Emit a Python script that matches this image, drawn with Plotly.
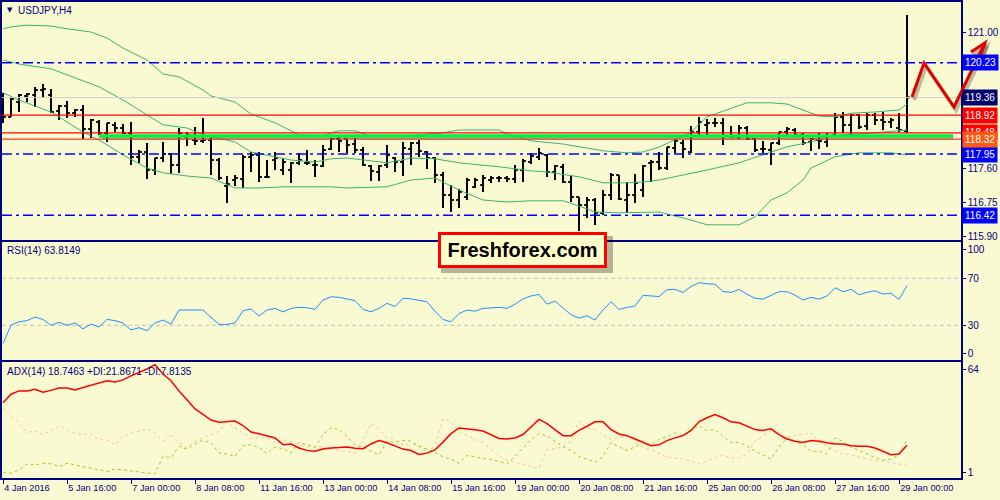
import plotly.graph_objects as go

# ---------------- data ----------------
BARS = list(range(114))
TICK_BARS = [0, 8, 16, 24, 32, 40, 48, 56, 64, 72, 80, 88, 96, 104, 112]
TICK_TEXT = ["4 Jan 2016", "5 Jan 16:00", "7 Jan 00:00", "8 Jan 08:00", "11 Jan 16:00",
             "13 Jan 00:00", "14 Jan 08:00", "15 Jan 16:00", "19 Jan 00:00", "20 Jan 08:00",
             "21 Jan 16:00", "25 Jan 00:00", "26 Jan 08:00", "27 Jan 16:00", "29 Jan 00:00"]

OPEN = [119.30, 118.875, 119.25, 119.40, 119.425, 119.55, 119.425, 119.025, 119.15, 118.975,
        119.05, 118.575, 118.75, 118.475, 118.675, 118.60, 118.475, 117.875, 118.0, 117.55,
        117.85, 117.95, 117.675, 118.375, 118.30, 118.275, 118.30, 117.80, 117.15, 117.30,
        117.325, 117.875, 117.925, 117.375, 117.80, 117.55, 117.55, 117.725, 117.725, 117.675,
        117.65, 118.075, 118.325, 118.325, 118.20, 118.05, 117.65, 117.50, 117.675, 117.85,
        117.75, 118.075, 118.225, 118.0, 117.85, 117.425, 116.925, 116.80, 116.875, 117.125,
        117.175, 117.30, 117.35, 117.35, 117.325, 117.55, 117.75, 117.875, 117.925, 117.50,
        117.625, 117.25, 116.875, 116.675, 116.80, 116.475, 116.925, 117.425, 116.80, 116.925,
        117.05, 117.725, 117.75, 117.60, 118.10, 118.225, 118.0, 118.50, 118.675, 118.725,
        118.725, 118.40, 118.375, 118.60, 118.325, 118.075, 118.05, 118.225, 118.50, 118.55,
        118.425, 118.25, 118.30, 118.25, 118.425, 118.875, 118.675, 118.925, 118.65, 118.925,
        118.80, 118.75, 118.60, 118.525]
HIGH = [119.475, 119.35, 119.45, 119.475, 119.625, 119.70, 119.575, 119.175, 119.275, 119.075,
        119.175, 118.825, 118.80, 118.725, 118.75, 118.70, 118.75, 118.05, 118.225, 117.85,
        118.25, 117.975, 118.60, 118.50, 118.625, 118.85, 118.375, 117.85, 117.40, 117.425,
        117.925, 118.0, 118.0, 117.80, 118.0, 117.85, 117.75, 117.975, 118.05, 117.80,
        118.175, 118.35, 118.375, 118.325, 118.35, 118.125, 117.675, 117.675, 118.175, 117.875,
        118.25, 118.25, 118.30, 118.025, 117.875, 117.50, 117.175, 117.075, 117.35, 117.35,
        117.425, 117.40, 117.40, 117.40, 117.675, 117.825, 117.975, 118.10, 117.95, 117.675,
        117.70, 117.40, 116.875, 116.875, 116.85, 117.05, 117.475, 117.425, 117.25, 117.45,
        117.675, 117.80, 118.0, 118.125, 118.325, 118.30, 118.65, 118.875, 118.825, 118.85,
        118.85, 118.65, 118.675, 118.65, 118.35, 118.275, 118.225, 118.50, 118.625, 118.60,
        118.475, 118.35, 118.475, 118.475, 118.975, 119.0, 118.95, 118.95, 118.975, 118.975,
        119.0, 118.85, 118.975, 121.425]
LOW = [118.725, 118.875, 119.0, 119.25, 119.125, 119.35, 118.975, 118.80, 118.85, 118.875,
       118.325, 118.35, 118.425, 118.25, 118.50, 118.45, 117.675, 117.725, 117.325, 117.425,
       117.75, 117.45, 117.475, 118.15, 118.175, 118.225, 117.425, 117.30, 116.725, 117.15,
       117.10, 117.50, 117.25, 117.35, 117.55, 117.425, 117.225, 117.675, 117.675, 117.375,
       117.625, 118.05, 118.0, 117.975, 117.975, 117.65, 117.275, 117.275, 117.60, 117.50,
       117.40, 117.675, 117.875, 117.575, 117.225, 116.60, 116.50, 116.60, 116.80, 117.10,
       117.0, 117.225, 117.25, 117.25, 117.225, 117.25, 117.70, 117.80, 117.375, 117.30,
       117.225, 116.75, 116.025, 116.35, 116.175, 116.425, 116.80, 116.80, 116.475, 116.725,
       116.875, 117.25, 117.55, 117.55, 117.975, 117.85, 117.975, 118.40, 118.425, 118.625,
       118.175, 118.35, 118.325, 118.30, 118.0, 117.975, 117.675, 118.175, 118.40, 118.375,
       118.175, 118.025, 118.075, 118.125, 118.425, 118.475, 118.425, 118.575, 118.55, 118.675,
       118.55, 118.60, 118.50, 118.475]
CLOSE = [118.875, 119.325, 119.425, 119.45, 119.55, 119.575, 119.0, 119.15, 118.975, 119.05,
         118.575, 118.80, 118.475, 118.725, 118.60, 118.475, 117.875, 118.0, 117.55, 117.85,
         117.95, 117.675, 118.475, 118.425, 118.275, 118.30, 117.80, 117.35, 117.20, 117.35,
         117.875, 117.925, 117.375, 117.375, 117.85, 117.75, 117.725, 117.80, 117.725, 117.675,
         118.05, 118.325, 118.275, 118.175, 118.05, 117.675, 117.525, 117.65, 117.925, 117.75,
         118.10, 118.225, 118.025, 117.85, 117.425, 116.925, 116.80, 117.0, 117.30, 117.30,
         117.35, 117.35, 117.35, 117.325, 117.55, 117.775, 117.90, 117.975, 117.50, 117.65,
         117.25, 116.875, 116.675, 116.80, 116.475, 116.925, 117.425, 116.825, 116.925, 117.225,
         117.65, 117.75, 117.60, 118.125, 118.275, 118.075, 118.50, 118.75, 118.725, 118.725,
         118.40, 118.375, 118.60, 118.325, 118.05, 118.075, 118.225, 118.50, 118.575, 118.425,
         118.225, 118.325, 118.275, 118.40, 118.875, 118.675, 118.925, 118.625, 118.925, 118.80,
         118.75, 118.80, 118.55, 119.36]

BB_UP_BAR = [0, 1, 3, 6, 8, 11, 13, 15, 18, 20, 22, 25, 26, 29, 31, 34, 37, 40, 41, 42, 44, 46,
             50, 55, 57, 62, 63, 66, 70, 75, 78, 80, 82, 86, 88, 91, 93, 96, 98, 100, 102, 104,
             106, 109, 112, 113]
BB_UP = [121.08, 121.13, 121.17, 121.15, 121.08, 121.0, 120.85, 120.6, 120.3, 119.95, 119.88,
         119.55, 119.4, 119.25, 118.95, 118.73, 118.43, 118.4, 118.48, 118.53, 118.53, 118.4,
         118.4, 118.48, 118.55, 118.55, 118.45, 118.28, 118.2, 118.03, 117.98, 118.0, 118.12,
         118.5, 118.88, 119.1, 119.23, 119.23, 119.2, 119.05, 118.9, 118.88, 118.97, 119.0,
         119.05, 119.2]
BB_MID_BAR = [0, 2, 6, 8, 12, 15, 18, 20, 23, 25, 29, 31, 34, 36, 39, 41, 43, 48, 51, 54, 57,
              62, 66, 68, 72, 75, 78, 80, 82, 84, 88, 92, 95, 98, 101, 103, 105, 109, 113]
BB_MID = [120.3, 120.2, 120.08, 119.93, 119.63, 119.3, 118.93, 118.68, 118.6, 118.43, 118.25,
          118.0, 117.88, 117.8, 117.75, 117.83, 117.85, 117.73, 117.85, 117.83, 117.73, 117.63,
          117.53, 117.5, 117.38, 117.23, 117.23, 117.25, 117.3, 117.38, 117.55, 117.73, 117.93,
          118.13, 118.25, 118.38, 118.43, 118.48, 118.55]
BB_LOW_BAR = [0, 2, 6, 10, 12, 15, 18, 20, 23, 26, 29, 32, 35, 41, 43, 48, 51, 54, 57, 60, 63,
              66, 70, 72, 74, 77, 82, 86, 88, 92, 94, 96, 98, 100, 101, 104, 107, 111, 113]
BB_LOW = [119.48, 119.3, 119.0, 118.5, 118.3, 117.93, 117.6, 117.48, 117.4, 117.35, 117.1,
          117.1, 117.13, 117.13, 117.1, 117.13, 117.3, 117.35, 117.05, 116.8, 116.75, 116.78,
          116.78, 116.65, 116.5, 116.48, 116.5, 116.3, 116.18, 116.18, 116.38, 116.8, 116.98,
          117.3, 117.6, 117.88, 117.98, 117.98, 117.93]

RSI = [14.6, 30, 33, 34, 37, 35, 30, 32.5, 30, 32, 27, 31, 28.5, 35, 34, 32, 26, 28, 25.4, 32,
       34.5, 31, 43, 43, 43, 43, 36.7, 30.8, 30.8, 32, 42.4, 44, 37.9, 43, 44.4, 41.5, 44.4,
       45.3, 45, 43.6, 51.5, 54.3, 53.8, 52.5, 51, 43.6, 41.5, 44.4, 48.7, 46, 53, 52.5, 51.5,
       50, 42, 35, 33, 40, 43, 42, 44.4, 45, 45.3, 44.4, 48, 52.5, 55, 56.3, 48, 50.6, 44.5,
       39, 36.2, 38.1, 34.5, 43, 50, 43.5, 45.3, 46.4, 55.5, 55.3, 54.5, 60.3, 60.6, 58, 63,
       66.3, 65.3, 65, 58.8, 58, 60.5, 56.5, 53, 52.3, 55.5, 58.6, 58.6, 55.7, 51.5, 53.8,
       52.3, 55, 62, 58.6, 60.6, 56, 58, 59.4, 56.6, 57.2, 52, 63.81]

ADX = [41.9, 46.5, 48.3, 48.3, 49.2, 47.6, 48.6, 49.9, 49.9, 48.8, 50.1, 51.4, 52.3, 53.8,
       53.2, 54.3, 56.5, 58.4, 60.2, 62.6, 57.5, 53.8, 48.3, 43.5, 38.5, 35.5, 32.5, 31.3,
       31.5, 31.9, 29.5, 26.0, 25.0, 23.8, 22.7, 19.1, 19.4, 17.3, 16.0, 15.5, 16.7, 17.3,
       17.6, 17.8, 17.2, 16.9, 19.5, 21.3, 20.1, 18.5, 16.7, 15.9, 13.8, 14.5, 16.3, 20.5,
       25.1, 28.2, 27.9, 27.2, 26.5, 24.6, 22.5, 22.2, 22.7, 24.6, 28.6, 32.8, 30.5, 27.0,
       24.0, 24.0, 26.9, 29.1, 31.5, 31.5, 27.3, 24.9, 24.0, 22.2, 20.3, 18.5, 19.0, 21.3,
       22.8, 24.0, 26.8, 31.5, 33.7, 35.5, 33.7, 31.5, 31.0, 29.1, 27.3, 26.8, 27.7, 24.6,
       22.2, 21.0, 20.3, 21.3, 21.0, 20.1, 19.5, 19.5, 18.5, 18.2, 18.2, 17.3, 15.5, 13.6,
       14.0, 18.75]
PLUS_DI = [3.9, 3.6, 5.4, 8.5, 8.1, 9.0, 8.7, 7.2, 9.0, 8.1, 7.0, 6.3, 5.5, 4.5, 5.9, 5.3, 4.8,
           4.3, 3.9, 3.2, 12.7, 12.0, 18.2, 16.7, 19.6, 21.5, 20.1, 14.5, 14.0, 12.7, 18.5, 19.0,
           17.8, 14.2, 17.8, 16.9, 14.5, 20.3, 19.0, 17.8, 24.6, 28.2, 27.3, 23.5, 19.0, 17.8,
           15.5, 13.6, 21.0, 20.3, 21.5, 21.0, 18.2, 16.5, 15.2, 12.4, 11.3, 9.0, 13.3, 12.4,
           11.9, 11.0, 10.0, 8.7, 12.7, 17.3, 21.9, 25.1, 23.7, 21.0, 17.8, 16.0, 12.7, 11.3,
           9.5, 12.7, 20.3, 17.8, 16.0, 17.8, 20.3, 19.0, 21.9, 23.5, 25.5, 23.7, 26.8, 29.5,
           26.8, 27.3, 23.7, 20.3, 20.3, 18.5, 15.5, 13.6, 11.3, 17.8, 22.7, 21.0, 19.0, 15.5,
           15.5, 14.2, 22.7, 21.0, 17.8, 16.0, 14.2, 11.9, 10.6, 11.3, 13.6, 21.87]
MINUS_DI = [39.2, 35.0, 31.0, 25.8, 26.3, 24.6, 27.0, 29.1, 27.3, 25.1, 24.6, 25.1, 21.8, 21.5,
            19.0, 23.3, 25.1, 26.5, 27.7, 25.1, 21.0, 24.6, 20.1, 17.3, 21.0, 22.7, 24.5, 26.3,
            31.0, 28.2, 25.5, 22.7, 22.7, 22.7, 20.1, 21.9, 20.5, 19.0, 17.8, 17.8, 18.2, 16.7,
            16.3, 15.5, 14.5, 21.0, 30.6, 27.3, 22.7, 21.9, 19.0, 19.0, 19.0, 14.5, 19.0, 33.2,
            31.3, 26.3, 24.0, 22.0, 20.1, 16.3, 13.0, 10.6, 9.5, 8.7, 7.2, 6.3, 16.3, 17.0, 17.8,
            21.0, 31.9, 28.2, 27.3, 24.6, 21.9, 23.0, 24.0, 21.0, 17.8, 16.3, 14.5, 12.4, 11.8,
            11.3, 10.2, 8.7, 10.2, 12.0, 13.6, 11.9, 11.9, 14.2, 21.0, 23.7, 27.0, 21.9, 23.3,
            24.0, 24.6, 25.5, 20.3, 18.2, 15.5, 14.2, 13.6, 12.5, 11.3, 10.2, 10.2, 9.5, 8.5,
            7.81]

PRICE_TICKS = [121.00, 120.15, 119.30, 118.45, 117.60, 116.75, 115.90]
BLUE_LEVELS = [120.23, 117.95, 116.42]
RED_LEVELS = [118.92, 118.48]
ORANGE_LEVEL = 118.32
GREEN_LEVEL = 118.40
GREEN_FROM_BAR = 12
BID = 119.36
RSI_LEVELS = [70, 30]
PRICE_LABELS = [(120.23, "#0000FF"), (119.36, "#00006E"), (118.92, "#FF0000"),
                (117.95, "#0000FF"), (116.42, "#0000FF"), (118.48, "#FF0000"),
                (118.32, "#FF5A14")]

# ---------------- styling ----------------
BG = "#FAFAD2"
NAVY = "#000080"
FONT = "Liberation Sans"
W, H = 1000, 500
ML, MR, MT, MB = 2, 39, 2, 22
PW, PH = W - ML - MR, H - MT - MB


def px(x):
    return (x - ML) / PW


def py(y):
    return (H - MB - y) / PH


fig = go.Figure()

bb = dict(color="#3CB371", width=1)
fig.add_trace(go.Scatter(x=BB_UP_BAR, y=BB_UP, mode="lines", line=bb, xaxis="x", yaxis="y"))
fig.add_trace(go.Scatter(x=BB_MID_BAR, y=BB_MID, mode="lines", line=bb, xaxis="x", yaxis="y"))
fig.add_trace(go.Scatter(x=BB_LOW_BAR, y=BB_LOW, mode="lines", line=bb, xaxis="x", yaxis="y"))
fig.add_trace(go.Ohlc(x=BARS, open=OPEN, high=HIGH, low=LOW, close=CLOSE,
                      increasing=dict(line=dict(color="black", width=2)),
                      decreasing=dict(line=dict(color="black", width=2)),
                      tickwidth=0.35, xaxis="x", yaxis="y"))

fig.add_trace(go.Scatter(x=BARS, y=RSI, mode="lines", line=dict(color="#1E90FF", width=1),
                         xaxis="x2", yaxis="y2"))

fig.add_trace(go.Scatter(x=BARS, y=MINUS_DI, mode="lines",
                         line=dict(color="#F5C6A0", width=1, dash="dot"), xaxis="x3", yaxis="y3"))
fig.add_trace(go.Scatter(x=BARS, y=PLUS_DI, mode="lines",
                         line=dict(color="#9ACD32", width=1, dash="3px,3px"), xaxis="x3", yaxis="y3"))
fig.add_trace(go.Scatter(x=BARS, y=ADX, mode="lines", line=dict(color="#FF0000", width=1.5),
                         xaxis="x3", yaxis="y3"))

shapes = []
shapes.append(dict(type="line", xref="x domain", yref="y", x0=0, x1=1, y0=BID, y1=BID,
                   line=dict(color="#D0D0D0", width=1), layer="above"))
for v in BLUE_LEVELS:
    shapes.append(dict(type="line", xref="x domain", yref="y", x0=0, x1=1, y0=v, y1=v,
                       line=dict(color="#0000FF", width=1.5, dash="10px,4px,3px,4px"), layer="above"))
for v in RED_LEVELS:
    shapes.append(dict(type="line", xref="x domain", yref="y", x0=0, x1=1, y0=v, y1=v,
                       line=dict(color="#FF0000", width=1.2), layer="above"))
shapes.append(dict(type="line", xref="x domain", yref="y", x0=0, x1=1, y0=ORANGE_LEVEL, y1=ORANGE_LEVEL,
                   line=dict(color="#F04020", width=1.2), layer="above"))
shapes.append(dict(type="line", xref="x", yref="y", x0=GREEN_FROM_BAR + 0.4, x1=118.8,
                   y0=GREEN_LEVEL - 0.05, y1=GREEN_LEVEL - 0.05,
                   line=dict(color="rgba(110,80,50,0.35)", width=3), layer="above"))
shapes.append(dict(type="line", xref="x", yref="y", x0=GREEN_FROM_BAR, x1=118.75,
                   y0=GREEN_LEVEL, y1=GREEN_LEVEL,
                   line=dict(color="#00F040", width=3.5), layer="above"))
for v in RSI_LEVELS:
    shapes.append(dict(type="line", xref="x2 domain", yref="y2", x0=0, x1=1, y0=v, y1=v,
                       line=dict(color="#C0C0C0", width=1, dash="4px,3px"), layer="below"))

# logo box shadow
shapes.append(dict(type="rect", xref="paper", yref="paper", x0=px(441), x1=px(613),
                   y0=py(273), y1=py(236), fillcolor="rgba(0,0,0,0.28)", line=dict(width=0),
                   layer="above"))


def path(pts, dx=0, dy=0):
    s = ""
    for k, (a, b) in enumerate(pts):
        s += ("M" if k == 0 else "L") + f"{px(a + dx):.4f},{py(b + dy):.4f} "
    return s


zig = [(912, 97), (924, 63), (954, 107), (985, 43)]
head = [(971, 52), (985, 43), (980, 57)]
for dx, dy, col, w in [(2, 3, "rgba(0,0,0,0.25)", 4), (0, 0, "#E00000", 3)]:
    shapes.append(dict(type="path", xref="paper", yref="paper", path=path(zig, dx, dy),
                       line=dict(color=col, width=w), layer="above"))
    shapes.append(dict(type="path", xref="paper", yref="paper", path=path(head, dx, dy),
                       line=dict(color=col, width=w), layer="above"))

ann = []
for v, col in PRICE_LABELS:
    ann.append(dict(xref="paper", yref="y", x=1, y=v, xanchor="left", xshift=1, showarrow=False,
                    text=f"{v:.2f}", bgcolor=col, font=dict(family=FONT, size=10, color="white"),
                    borderpad=2))
ann.append(dict(xref="paper", yref="paper", x=px(5), y=py(10), xanchor="left", yanchor="middle",
                showarrow=False, text="▼", font=dict(family="DejaVu Sans", size=7, color=NAVY)))
ann.append(dict(xref="paper", yref="paper", x=px(16), y=py(10), xanchor="left", yanchor="middle",
                showarrow=False, text="USDJPY,H4", font=dict(family=FONT, size=10, color=NAVY)))
ann.append(dict(xref="paper", yref="paper", x=px(5), y=py(251), xanchor="left", yanchor="middle",
                showarrow=False, text="RSI(14) 63.8149",
                font=dict(family=FONT, size=10, color=NAVY)))
ann.append(dict(xref="paper", yref="paper", x=px(5), y=py(371), xanchor="left", yanchor="middle",
                showarrow=False, text="ADX(14) 18.7463 +DI:21.8671 -DI:7.8135",
                font=dict(family=FONT, size=10, color=NAVY)))
ann.append(dict(xref="paper", yref="paper", x=px(522.5), y=py(250), xanchor="center", yanchor="middle",
                showarrow=False, text="<b>Freshforex.com</b>", width=163, height=30,
                bgcolor="#FFFFCC", bordercolor="#FF0000", borderwidth=3, borderpad=0,
                font=dict(family=FONT, size=20, color="black")))

axis_common = dict(showline=True, linecolor=NAVY, linewidth=1.5, mirror=True, showgrid=False,
                   zeroline=False, automargin=False,
                   tickfont=dict(family=FONT, size=10, color=NAVY))
xr = [-0.125, 119.75]

fig.update_layout(
    width=W, height=H, margin=dict(l=ML, r=MR, t=MT, b=MB, autoexpand=False),
    paper_bgcolor=BG, plot_bgcolor=BG, showlegend=False, hovermode=False,
    shapes=shapes, annotations=ann,
    xaxis=dict(axis_common, domain=[0, 1], anchor="y", range=xr, showticklabels=False, ticks="",
               rangeslider=dict(visible=False)),
    xaxis2=dict(axis_common, domain=[0, 1], anchor="y2", matches="x", range=xr,
                showticklabels=False, ticks=""),
    xaxis3=dict(axis_common, domain=[0, 1], anchor="y3", matches="x", range=xr,
                tickvals=TICK_BARS, ticktext=TICK_TEXT, ticks="outside", ticklen=4,
                tickcolor=NAVY, ticklabelposition="outside right", tickangle=0,
                tickfont=dict(family=FONT, size=9.2, color=NAVY)),
    yaxis=dict(axis_common, domain=[py(240), 1], anchor="x", side="right", range=[115.8, 121.75],
               tickvals=PRICE_TICKS, tickformat=".2f", ticks="outside", ticklen=3, tickcolor=NAVY),
    yaxis2=dict(axis_common, domain=[py(359.5), py(242)], anchor="x2", side="right",
                range=[0.9, 100.9], tickvals=[94.9, 70, 30, 6.4], ticktext=["100", "70", "30", "0"],
                ticks="outside", ticklen=3, tickcolor=NAVY),
    yaxis3=dict(axis_common, domain=[0, py(362)], anchor="x3", side="right", range=[1, 64],
                tickvals=[59.9, 4.0], ticktext=["64", "1"], ticks="outside", ticklen=3, tickcolor=NAVY),
)

fig.write_html("out.html", config={"displayModeBar": False},
               post_script="document.body.style.margin='0';")
